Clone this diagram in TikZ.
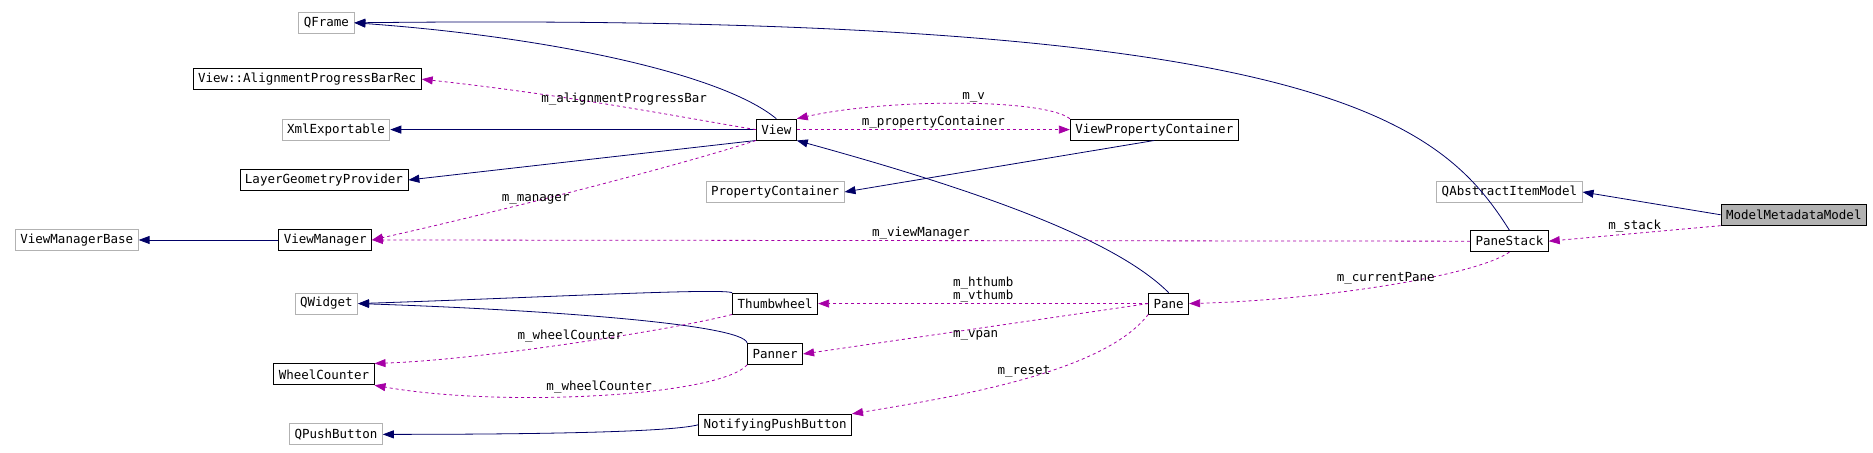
\documentclass[tikz,border=0pt]{standalone}
\usepackage{fontspec}
\setmonofont{DejaVu Sans Mono}
\usetikzlibrary{arrows.meta}

\begin{document}
\begin{tikzpicture}[x=1.2pt, y=-1.2pt,
	cls/.style={draw=black, thick, minimum height=21pt, inner xsep=5pt, font=\ttfamily\fontsize{12.5}{14}\selectfont},
	ext/.style={cls, draw=black!30},
	inherit/.style={draw=blue!40!black, thick, -{Triangle[length=11pt,width=8pt]}},
	uses/.style={draw=violet!70!magenta, thick, dashed, -{Triangle[length=11pt,width=8pt]}},
	lbl/.style={font=\ttfamily\fontsize{12.5}{13}\selectfont, inner sep=1pt}]
	\useasboundingbox (0,0) rectangle (1561,377.5);

	%left column
	\node[ext] (qframe) at (272,19) {QFrame};
	\node[cls] (alignrec) at (256,66) {View::AlignmentProgressBarRec};
	\node[ext] (xmlexp) at (280,108) {XmlExportable};
	\node[cls] (layergeom) at (270,150) {LayerGeometryProvider};
	\node[ext] (vmbase) at (64,200) {ViewManagerBase};
	\node[cls] (viewmgr) at (271,200) {ViewManager};
	\node[ext] (qwidget) at (272,253) {QWidget};
	\node[cls] (wheelctr) at (270,312) {WheelCounter};
	\node[ext] (qpush) at (280,362) {QPushButton};

	%middle column
	\node[cls] (view) at (647,108) {View};
	\node[cls] (vpc) at (962,108) {ViewPropertyContainer};
	\node[ext] (propcont) at (646,160) {PropertyContainer};
	\node[cls] (thumb) at (646,253) {Thumbwheel};
	\node[cls] (panner) at (646,295) {Panner};
	\node[cls] (npb) at (646,354) {NotifyingPushButton};
	\node[cls] (pane) at (974,253) {Pane};

	%right column
	\node[ext] (qaim) at (1258,160) {QAbstractItemModel};
	\node[cls] (panestack) at (1258,201) {PaneStack};
	\node[cls, fill=black!30] (mmm) at (1495,179) {ModelMetadataModel};

	%inheritance
	\draw[inherit] (view.north) .. controls (600,60) and (450,30) .. (qframe.east);
	\draw[inherit] (panestack.north) .. controls (1200,100) and (1100,10) .. (qframe.east);
	\draw[inherit] (view) -- (xmlexp);
	\draw[inherit] (view.south west) -- (layergeom.east);
	\draw[inherit] (vpc.south) -- (propcont.east);
	\draw[inherit] (viewmgr) -- (vmbase);
	\draw[inherit] (pane.north) .. controls (930,200) and (820,160) .. (view.south east);
	\draw[inherit] (thumb.north west) .. controls (600,240) and (450,248) .. (qwidget.east);
	\draw[inherit] (panner.north west) .. controls (620,270) and (450,258) .. (qwidget.east);
	\draw[inherit] (npb.west) .. controls (560,360) and (450,362) .. (qpush.east);
	\draw[inherit] (mmm.west) -- (qaim.east);

	%usage
	\draw[uses] (view.west) .. controls (580,100) and (480,80) .. node[lbl, above] {m\_alignmentProgressBar} (alignrec.east);
	\draw[uses] (vpc.north west) .. controls (870,82) and (740,82) .. node[lbl, above, pos=0.45] {m\_v} (view.north east);
	\draw[uses] (view.east) -- node[lbl, above] {m\_propertyContainer} (vpc.west);
	\draw[uses] (view.south west) .. controls (560,140) and (400,180) .. node[lbl, below left=2pt] {m\_manager} (viewmgr.east);
	\draw[uses] (panestack.west) -- node[lbl, above] {m\_viewManager} (viewmgr.east);
	\draw[uses] (mmm.south west) -- node[lbl, above] {m\_stack} (panestack.east);
	\draw[uses] (panestack.south) .. controls (1230,230) and (1100,250) .. node[lbl, above] {m\_currentPane} (pane.east);
	\draw[uses] (pane.west) -- node[lbl, above, align=center] {m\_hthumb\\m\_vthumb} (thumb.east);
	\draw[uses] (pane.west) -- node[lbl, below] {m\_vpan} (panner.east);
	\draw[uses] (pane.south west) .. controls (920,310) and (800,330) .. node[lbl, above] {m\_reset} (npb.north east);
	\draw[uses] (thumb.south west) .. controls (560,275) and (400,300) .. node[lbl, above] {m\_wheelCounter} (wheelctr.north east);
	\draw[uses] (panner.south west) .. controls (600,330) and (420,340) .. node[lbl, above] {m\_wheelCounter} (wheelctr.south east);
\end{tikzpicture}
\end{document}
